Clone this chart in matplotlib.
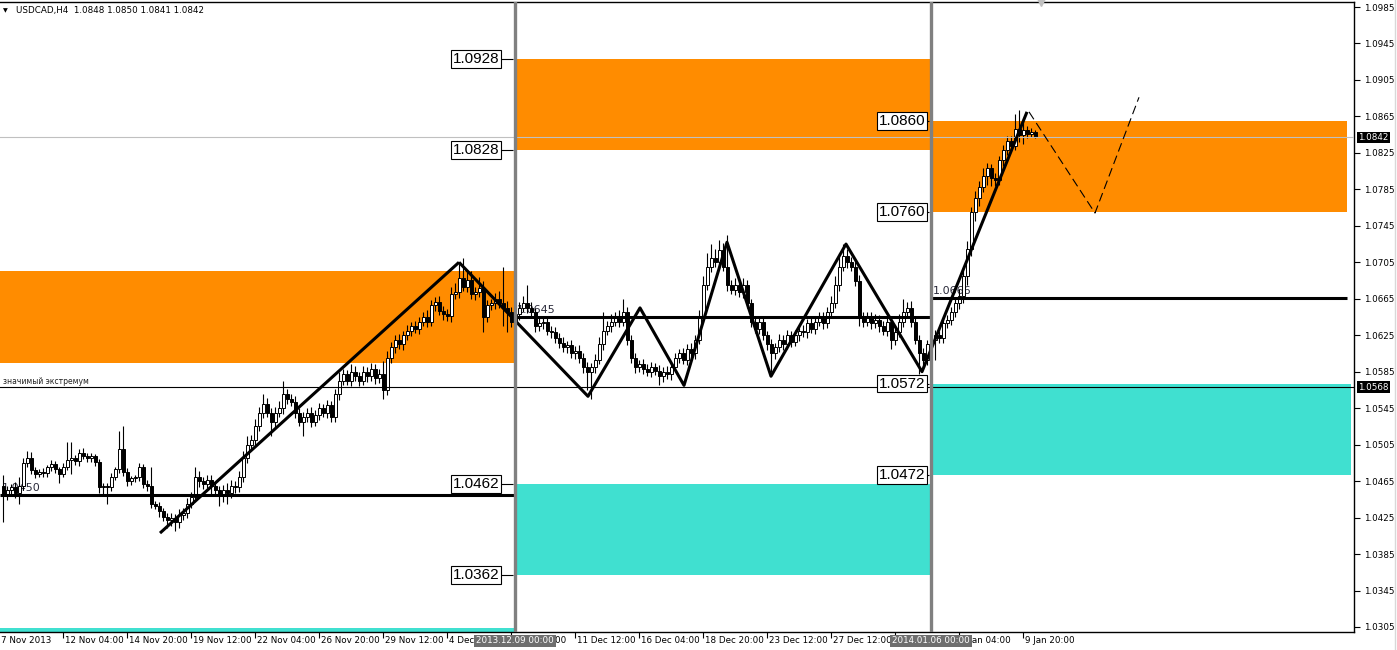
import matplotlib
matplotlib.use("Agg")
import matplotlib.pyplot as plt
import matplotlib.transforms as mtransforms
from matplotlib.patches import Rectangle
from matplotlib.lines import Line2D

# ---- data: H4 closes, wick sizes in pips ----
first_open = 1.0460
closes = [
    1.0450, 1.0455, 1.0458, 1.0452, 1.0460, 1.0485, 1.0490, 1.0477, 1.0473, 1.0475, 1.0474, 1.0480, 1.0484, 1.0478, 1.0473, 1.0481,
    1.0488, 1.0490, 1.0487, 1.0496, 1.0493, 1.0490, 1.0492, 1.0486, 1.0458, 1.0460, 1.0458, 1.0470, 1.0478, 1.0500, 1.0475, 1.0465,
    1.0468, 1.0469, 1.0480, 1.0462, 1.0460, 1.0440, 1.0438, 1.0432, 1.0426, 1.0422, 1.0425, 1.0420, 1.0428, 1.0430, 1.0440, 1.0448,
    1.0470, 1.0465, 1.0462, 1.0466, 1.0460, 1.0455, 1.0450, 1.0455, 1.0452, 1.0460, 1.0458, 1.0470, 1.0490, 1.0505, 1.0510, 1.0525,
    1.0540, 1.0550, 1.0540, 1.0530, 1.0540, 1.0545, 1.0560, 1.0555, 1.0552, 1.0540, 1.0530, 1.0535, 1.0540, 1.0530, 1.0538, 1.0545,
    1.0540, 1.0548, 1.0535, 1.0560, 1.0575, 1.0582, 1.0575, 1.0585, 1.0580, 1.0575, 1.0585, 1.0580, 1.0588, 1.0578, 1.0582, 1.0565,
    1.0600, 1.0612, 1.0620, 1.0615, 1.0625, 1.0630, 1.0635, 1.0632, 1.0640, 1.0645, 1.0640, 1.0658, 1.0662, 1.0652, 1.0648, 1.0646,
    1.0670, 1.0672, 1.0688, 1.0678, 1.0686, 1.0670, 1.0672, 1.0677, 1.0645, 1.0658, 1.0660, 1.0665, 1.0660, 1.0655, 1.0650, 1.0640,
    # 2013.12.09
    1.0648, 1.0655, 1.0660, 1.0655, 1.0650, 1.0635, 1.0638, 1.0640, 1.0630, 1.0628, 1.0622, 1.0617, 1.0612, 1.0614, 1.0605, 1.0608,
    1.0600, 1.0590, 1.0585, 1.0590, 1.0598, 1.0615, 1.0630, 1.0635, 1.0640, 1.0645, 1.0640, 1.0650, 1.0620, 1.0600, 1.0590, 1.0593,
    1.0588, 1.0585, 1.0590, 1.0586, 1.0580, 1.0585, 1.0582, 1.0590, 1.0600, 1.0605, 1.0598, 1.0610, 1.0605, 1.0620, 1.0645, 1.0680,
    1.0700, 1.0710, 1.0705, 1.0718, 1.0700, 1.0680, 1.0675, 1.0680, 1.0672, 1.0680, 1.0660, 1.0640, 1.0632, 1.0640, 1.0625, 1.0615,
    1.0605, 1.0612, 1.0620, 1.0615, 1.0625, 1.0618, 1.0625, 1.0630, 1.0628, 1.0638, 1.0632, 1.0640, 1.0645, 1.0638, 1.0650, 1.0660,
    1.0680, 1.0700, 1.0712, 1.0705, 1.0700, 1.0685, 1.0645, 1.0640, 1.0645, 1.0638, 1.0642, 1.0635, 1.0630, 1.0640, 1.0620, 1.0628,
    1.0640, 1.0650, 1.0655, 1.0640, 1.0620, 1.0605, 1.0598, 1.0615,
    # 2014.01.06
    1.0620, 1.0625, 1.0622, 1.0638, 1.0642, 1.0650, 1.0660, 1.0668, 1.0690, 1.0720, 1.0760, 1.0775, 1.0788, 1.0800, 1.0808, 1.0797,
    1.0795, 1.0817, 1.0828, 1.0838, 1.0833, 1.0851, 1.0845, 1.0850, 1.0846, 1.0848, 1.0842,
]
up_pips = [
    12, 5, 4, 6, 10, 5, 8, 7, 4, 3, 4, 3, 4, 3, 3, 4,
    20, 18, 4, 4, 5, 3, 4, 3, 3, 3, 3, 4, 3, 20, 25, 4,
    3, 3, 5, 4, 4, 20, 3, 4, 3, 4, 5, 4, 6, 5, 6, 5,
    10, 6, 5, 6, 6, 4, 5, 6, 8, 6, 5, 6, 8, 10, 6, 8,
    6, 10, 6, 5, 6, 8, 15, 6, 5, 6, 5, 6, 5, 6, 5, 6,
    5, 6, 5, 6, 10, 6, 5, 8, 6, 5, 6, 5, 6, 5, 6, 15,
    8, 6, 5, 6, 5, 6, 5, 6, 5, 6, 8, 6, 5, 6, 5, 6,
    8, 10, 15, 22, 8, 10, 6, 12, 8, 6, 5, 6, 8, 40, 8, 6,
    8, 6, 8, 20, 6, 5, 6, 5, 6, 5, 6, 5, 6, 5, 6, 5,
    6, 5, 6, 5, 6, 8, 20, 6, 8, 6, 8, 15, 6, 5, 6, 5,
    6, 5, 6, 5, 6, 5, 6, 5, 6, 5, 6, 5, 6, 5, 8, 10,
    15, 15, 10, 12, 8, 35, 6, 8, 6, 8, 6, 5, 6, 5, 6, 5,
    6, 5, 6, 5, 6, 5, 6, 5, 6, 5, 6, 5, 6, 5, 6, 8,
    10, 15, 13, 8, 6, 8, 6, 5, 6, 5, 6, 5, 6, 5, 6, 5,
    8, 15, 6, 8, 6, 5, 6, 5,
    5, 6, 5, 6, 5, 6, 5, 8, 6, 8, 6, 8, 6, 8, 6, 5,
    6, 5, 6, 5, 6, 17, 21, 12, 5, 4, 2,
]
down_pips = [
    30, 6, 5, 6, 12, 5, 4, 4, 5, 4, 4, 4, 4, 4, 10, 4,
    4, 15, 4, 5, 4, 4, 4, 4, 6, 8, 18, 4, 4, 4, 4, 5,
    4, 4, 4, 5, 6, 5, 4, 6, 5, 8, 6, 10, 6, 6, 5, 5,
    5, 6, 6, 5, 10, 6, 12, 8, 12, 5, 6, 5, 6, 5, 6, 5,
    5, 6, 5, 15, 6, 5, 6, 5, 5, 6, 5, 15, 5, 6, 5, 6,
    5, 6, 5, 5, 6, 5, 5, 6, 5, 6, 5, 6, 5, 6, 5, 10,
    6, 5, 6, 5, 6, 5, 6, 5, 6, 5, 6, 5, 6, 5, 6, 5,
    6, 5, 6, 5, 6, 5, 6, 5, 17, 6, 5, 6, 5, 20, 22, 6,
    5, 6, 5, 6, 5, 6, 5, 6, 5, 6, 5, 6, 5, 6, 5, 6,
    5, 6, 20, 30, 6, 5, 6, 5, 6, 5, 6, 5, 6, 5, 6, 5,
    6, 5, 6, 5, 10, 6, 5, 6, 5, 6, 5, 6, 5, 6, 5, 6,
    5, 6, 5, 6, 5, 6, 5, 6, 5, 6, 5, 6, 5, 6, 5, 6,
    20, 6, 5, 6, 5, 6, 5, 6, 5, 6, 5, 6, 5, 6, 5, 6,
    5, 6, 5, 6, 5, 6, 10, 6, 5, 6, 5, 6, 5, 6, 10, 6,
    5, 6, 5, 6, 5, 22, 8, 6,
    6, 22, 5, 6, 5, 6, 5, 6, 8, 10, 8, 10, 8, 6, 10, 8,
    6, 5, 6, 5, 6, 5, 8, 10, 5, 4, 1,
]

# session separators (bar index) and their labels
sep_bars = [128, 232]
sep_labels = ["2013.12.09 00:00", "2014.01.06 00:00"]
sec_edges = [-0.75, 128, 232, 336]

# zones per section: (top, bottom)
orange_zones = [(1.0695, 1.0595), (1.0928, 1.0828), (1.0860, 1.0760)]
cyan_zones = [(1.0304, 1.0200), (1.0462, 1.0362), (1.0572, 1.0472)]
level_lines = [1.0450, 1.0645, 1.0666]
zone_labels = [[], ["1.0928", "1.0828", "1.0462", "1.0362"], ["1.0860", "1.0760", "1.0572", "1.0472"]]

# zigzag (bar index, price)
zig_x = [39.25, 114, 146.25, 159.25, 170.25, 181, 192, 210.75, 229.75, 256]
zig_y = [1.0408, 1.0705, 1.0558, 1.0655, 1.0570, 1.0727, 1.0580, 1.0725, 1.0585, 1.0870]
proj_x = [256.5, 273, 284]
proj_y = [1.0870, 1.0759, 1.0886]

extremum = 1.0568
bid = 1.0842

date_ticks = [15, 31, 47, 63, 79, 95, 111, 127, 143, 159, 175, 191, 207, 223, 239, 255]
date_labels = ["12 Nov 04:00", "14 Nov 20:00", "19 Nov 12:00", "22 Nov 04:00", "26 Nov 20:00",
               "29 Nov 12:00", "4 Dec 04:00", "6 Dec 20:00", "11 Dec 12:00", "16 Dec 04:00",
               "18 Dec 20:00", "23 Dec 12:00", "27 Dec 12:00", "", "7 Jan 04:00", "9 Jan 20:00"]
price_ticks = [1.0305 + 0.004 * k for k in range(18)]

ORANGE = "#FF8C00"
CYAN = "#40E0D0"

W, H = 1397, 650
fig = plt.figure(figsize=(W / 100, H / 100), dpi=100)
ax = fig.add_axes([0, 18 / H, 1354 / W, 630 / H])
ax.set_xlim(-0.75, 337.75)
ax.set_ylim(1.02995, 1.09905)
px = (337.75 + 0.75) / 1354  # bar units per pixel

# zones
for i in range(3):
    x0, x1 = sec_edges[i], sec_edges[i + 1]
    t, b = orange_zones[i]
    ax.add_patch(Rectangle((x0, b), x1 - x0, t - b, color=ORANGE, lw=0, zorder=1))
    t, b = cyan_zones[i]
    xe = x1 + (1 if i == 2 else 0)
    ax.add_patch(Rectangle((x0, b), xe - x0, t - b, color=CYAN, lw=0, zorder=1))

# level texts (behind candles)
for i, lv in enumerate(level_lines):
    ax.text(sec_edges[i] + 0.5, lv + 0.0002, f"{lv:.4f}", fontsize=8, color="#2a2a3a",
            va="bottom", ha="left", zorder=1.5)
ax.text(0, extremum + 0.00015, "значимый экстремум", fontsize=5.5, color="#222222",
        va="bottom", ha="left", zorder=1.5)

# candles
opens = [first_open] + closes[:-1]
for i, (o, c) in enumerate(zip(opens, closes)):
    hi = max(o, c) + up_pips[i] / 10000
    lo = min(o, c) - down_pips[i] / 10000
    ax.vlines(i, lo, hi, color="black", lw=0.8, zorder=2)
    body = max(abs(c - o), 0.00008)
    ax.add_patch(Rectangle((i - 0.375, min(o, c)), 0.75, body,
                           fc="white" if c >= o else "black", ec="black", lw=0.7, zorder=2.5))

# horizontal lines
ax.axhline(bid, color="#c0c0c0", lw=0.8, zorder=3)
ax.axhline(extremum, color="black", lw=0.8, zorder=3)
for i, lv in enumerate(level_lines):
    ax.hlines(lv, sec_edges[i], sec_edges[i + 1], color="black", lw=2.2, zorder=3)

# zigzag + projection
ax.plot(zig_x[:2], zig_y[:2], color="black", lw=2.2, zorder=4, solid_capstyle="butt")
ax.plot(zig_x[1:], zig_y[1:], color="black", lw=2.2, zorder=4, solid_capstyle="butt")
ax.plot(proj_x, proj_y, color="black", lw=0.8, ls=(0, (8, 4)), zorder=4)

# separators
for s in sep_bars:
    ax.axvline(s, color="#808080", lw=2.4, zorder=5)

# price labels of each zone, drawn just left of the zone's separator
for i in (1, 2):
    edge = sec_edges[i]
    right = edge - (15 if i == 1 else 5) * px
    for lab in zone_labels[i]:
        val = float(lab)
        ax.hlines(val, right, edge - 2 * px, color="black", lw=0.8, zorder=6)
        ax.text(right - 1 * px, val, lab, fontsize=11, family="Liberation Sans", ha="right", va="center",
                zorder=7, bbox=dict(boxstyle="square,pad=0.12", fc="white", ec="black", lw=0.8))

# axes styling
ax.spines["left"].set_visible(False)
for side in ("top", "right", "bottom"):
    ax.spines[side].set_linewidth(1.0)
ax.yaxis.tick_right()
ax.set_yticks(price_ticks)
ax.set_yticklabels([f"{p:.4f}" for p in price_ticks])
ax.tick_params(axis="y", length=4, width=0.8, direction="out", labelsize=6.3, pad=3)
ax.set_xticks(date_ticks)
ax.set_xticklabels([])
ax.tick_params(axis="x", length=4, width=0.8, direction="out")

tx = mtransforms.blended_transform_factory(ax.transData, ax.transAxes)
ty = mtransforms.blended_transform_factory(ax.transAxes, ax.transData)
ax.text(-0.75 + 1 * px, -0.014, "7 Nov 2013", transform=tx, fontsize=6.3, ha="left", va="center", clip_on=False)
for t, lab in zip(date_ticks, date_labels):
    if lab:
        ax.text(t + 2 * px, -0.014, lab, transform=tx, fontsize=6.3, ha="left", va="center",
                clip_on=False, zorder=8)
for s, lab in zip(sep_bars, sep_labels):
    ax.text(s, -0.014, lab, transform=tx, fontsize=6.3, ha="center", va="center", color="white",
            clip_on=False, zorder=9, bbox=dict(boxstyle="square,pad=0.2", fc="#6e6e6e", ec="none"))

for val in (bid, extremum):
    ax.text(1 + 4 / 1354, val, f"{val:.4f}", transform=ty, fontsize=6.3, ha="left", va="center",
            color="white", clip_on=False, zorder=9,
            bbox=dict(boxstyle="square,pad=0.15", fc="black", ec="none"))

# chart shift marker
ax.plot([len(closes) + 0.5], [1.0], transform=tx, marker="v", color="#c0c0c0", ms=6, clip_on=False, zorder=9)

fig.text(3 / W, 1 - 11 / H, "▼", fontsize=4.5, va="center", ha="left")
fig.text(16 / W, 1 - 11 / H, "USDCAD,H4  1.0848 1.0850 1.0841 1.0842", fontsize=6.3, va="center", ha="left")
fig.add_artist(Line2D([1394.5 / W] * 2, [0, 1], color="#d8d8d8", lw=1))

fig.savefig("out.png", dpi=100, facecolor="white")
